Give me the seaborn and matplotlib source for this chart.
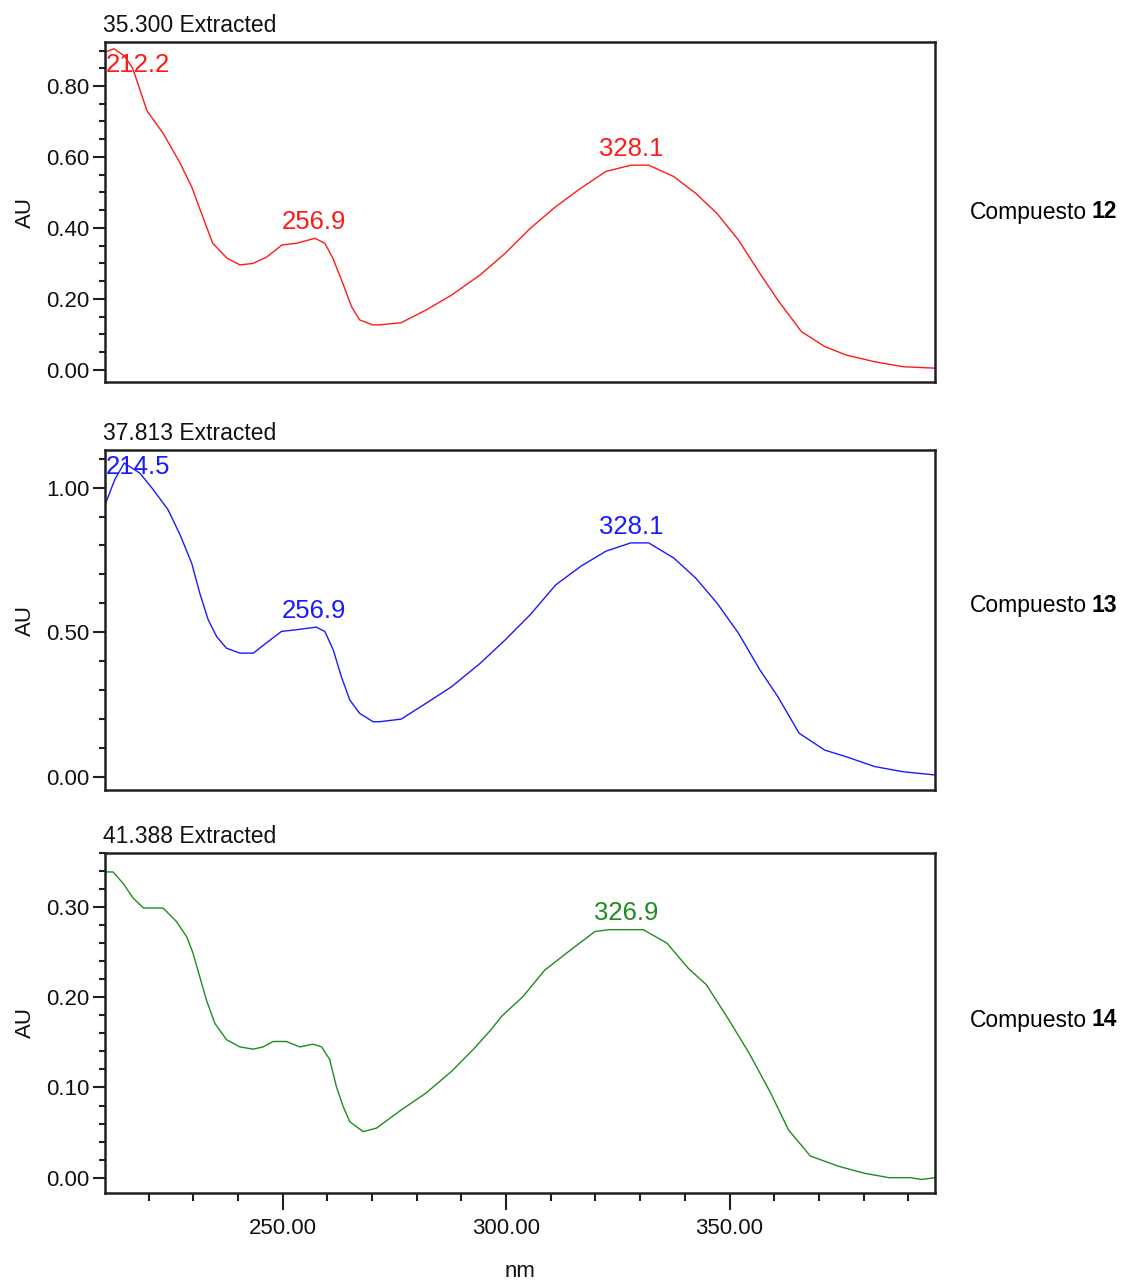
import numpy as np
import seaborn as sns
import matplotlib.pyplot as plt
from matplotlib.ticker import MultipleLocator, FormatStrFormatter

# ======================
# data
# ======================
nm_12 = [210.2, 212.2, 214.5, 216.4, 219.6, 223.2, 227.0, 229.6, 232.1, 234.3,
         237.5, 240.4, 243.3, 246.4, 249.8, 253.1, 257.2, 259.4, 261.2, 263.4,
         265.4, 267.2, 270.1, 271.7, 276.5, 282.1, 287.8, 294.2, 299.8, 305.4,
         311.1, 316.7, 322.3, 327.9, 331.9, 337.5, 342.4, 347.2, 352.0, 356.8,
         360.8, 366.1, 371.3, 376.1, 382.5, 388.9, 396.0]
au_12 = [0.895, 0.905, 0.885, 0.85, 0.73, 0.667, 0.583, 0.516, 0.431, 0.357,
         0.315, 0.296, 0.30, 0.318, 0.352, 0.357, 0.371, 0.357, 0.315, 0.245,
         0.178, 0.141, 0.127, 0.127, 0.133, 0.169, 0.211, 0.268, 0.329, 0.399,
         0.46, 0.512, 0.559, 0.577, 0.577, 0.545, 0.498, 0.441, 0.366, 0.272,
         0.197, 0.108, 0.066, 0.042, 0.023, 0.009, 0.005]

nm_13 = [210.2, 212.4, 214.5, 218.0, 221.0, 224.3, 227.0, 229.6, 231.4, 233.3,
         235.2, 237.4, 240.4, 243.4, 246.3, 249.7, 253.1, 257.5, 259.4, 261.3,
         263.1, 265.0, 267.2, 270.2, 271.7, 276.5, 282.1, 287.8, 294.2, 299.8,
         305.4, 311.1, 316.7, 322.3, 327.9, 331.9, 337.5, 342.4, 347.2, 352.0,
         356.8, 360.8, 365.6, 371.3, 376.1, 382.5, 388.9, 396.0]
au_13 = [0.94, 1.028, 1.085, 1.05, 0.993, 0.924, 0.837, 0.739, 0.636, 0.543,
         0.485, 0.445, 0.428, 0.428, 0.463, 0.503, 0.509, 0.518, 0.503, 0.439,
         0.347, 0.266, 0.22, 0.191, 0.191, 0.2, 0.255, 0.312, 0.393, 0.474,
         0.561, 0.664, 0.728, 0.78, 0.809, 0.809, 0.757, 0.688, 0.601, 0.497,
         0.37, 0.278, 0.151, 0.093, 0.07, 0.036, 0.018, 0.007]

nm_14 = [210.2, 212.0, 214.3, 216.5, 218.8, 223.2, 226.2, 228.5, 229.9, 231.4,
         232.9, 234.8, 237.4, 240.4, 243.4, 245.6, 247.8, 250.8, 253.8, 256.8,
         258.7, 260.5, 262.0, 263.5, 265.0, 268.0, 271.0, 274.0, 276.5, 282.1,
         287.8, 292.6, 296.6, 299.0, 303.8, 308.6, 314.3, 319.9, 323.1, 330.7,
         336.0, 340.8, 344.8, 349.6, 354.4, 359.2, 363.2, 368.1, 374.5, 380.1,
         385.7, 390.5, 393.0, 396.0]
au_14 = [0.339, 0.339, 0.326, 0.31, 0.299, 0.299, 0.284, 0.267, 0.249, 0.223,
         0.197, 0.171, 0.153, 0.145, 0.1425, 0.145, 0.151, 0.151, 0.145, 0.148,
         0.145, 0.131, 0.101, 0.079, 0.062, 0.051, 0.055, 0.066, 0.075, 0.094,
         0.118, 0.142, 0.164, 0.179, 0.201, 0.230, 0.252, 0.273, 0.275, 0.275,
         0.260, 0.232, 0.214, 0.177, 0.138, 0.094, 0.053, 0.024, 0.0125, 0.005,
         0.0, 0.0, -0.002, 0.0]

peaks_12 = [212.2, 256.9, 328.1]
peaks_13 = [214.5, 256.9, 328.1]
peaks_14 = [326.9]

titles = ["35.300 Extracted", "37.813 Extracted", "41.388 Extracted"]
compounds = ["12", "13", "14"]

# ======================
# style
# ======================
sns.set_style("ticks")
plt.rcParams["font.family"] = ["Liberation Sans", "DejaVu Sans"]
plt.rcParams["axes.linewidth"] = 1.8
plt.rcParams["axes.edgecolor"] = "#202020"
plt.rcParams["text.color"] = "#111111"
plt.rcParams["axes.labelcolor"] = "#111111"
plt.rcParams["xtick.labelcolor"] = "#111111"
plt.rcParams["ytick.labelcolor"] = "#111111"

panels = [
    dict(nm=nm_12, au=au_12, peaks=peaks_12, color="#ff1a1a",
         ylim=(-0.034, 0.924), major=0.2, minor=0.05, rect=[105, 42, 935, 382],
         name_y=212),
    dict(nm=nm_13, au=au_13, peaks=peaks_13, color="#1a1aff",
         ylim=(-0.045, 1.13), major=0.5, minor=0.1, rect=[105, 450, 935, 790],
         name_y=606),
    dict(nm=nm_14, au=au_14, peaks=peaks_14, color="#1f8c1f",
         ylim=(-0.017, 0.36), major=0.1, minor=0.02, rect=[105, 853, 935, 1193],
         name_y=1020),
]

W, H = 1122, 1283
fig = plt.figure(figsize=(W / 100, H / 100), dpi=100)

for i, p in enumerate(panels):
    x0, y0, x1, y1 = p["rect"]
    ax = fig.add_axes([x0 / W, 1 - y1 / H, (x1 - x0) / W, (y1 - y0) / H])
    sns.lineplot(x=p["nm"], y=p["au"], ax=ax, color=p["color"], linewidth=1.0)
    ax.set_xlim(210.2, 396.0)
    ax.set_ylim(*p["ylim"])

    ax.yaxis.set_major_locator(MultipleLocator(p["major"]))
    ax.yaxis.set_minor_locator(MultipleLocator(p["minor"]))
    ax.yaxis.set_major_formatter(FormatStrFormatter("%.2f"))
    ax.tick_params(axis="y", which="major", length=9, width=1.5, labelsize=16,
                   pad=2, color="#202020")
    ax.tick_params(axis="y", which="minor", length=4, width=1.5, color="#202020")

    if i == 2:
        ax.xaxis.set_major_locator(MultipleLocator(50))
        ax.xaxis.set_minor_locator(MultipleLocator(10))
        ax.xaxis.set_major_formatter(FormatStrFormatter("%.2f"))
        ax.tick_params(axis="x", which="major", length=12, width=1.5,
                       labelsize=16, pad=6, color="#202020")
        ax.tick_params(axis="x", which="minor", length=6, width=1.5,
                       color="#202020")
        ax.set_xlabel("nm", fontsize=16)
        ax.xaxis.set_label_coords(0.5, -0.2)
    else:
        ax.tick_params(axis="x", which="both", bottom=False, labelbottom=False)
        ax.set_xlabel("")

    ax.set_ylabel("AU", fontsize=16)
    ax.yaxis.set_label_coords(-0.083, 0.5)
    ax.set_title(titles[i], loc="left", fontsize=16.5, pad=7, x=-0.003)

    # peak labels
    for pk in p["peaks"]:
        yv = np.interp(pk, p["nm"], p["au"])
        if pk < 220:
            off = (-6, -12) if i == 0 else (-13, -3)
            ax.annotate(f"{pk:.1f}", xy=(pk, yv), xytext=off,
                        textcoords="offset points", ha="left", va="center",
                        color=p["color"], fontsize=18.5)
        else:
            ax.annotate(f"{pk:.1f}", xy=(pk, yv), xytext=(0, 3),
                        textcoords="offset points", ha="center", va="bottom",
                        color=p["color"], fontsize=18.5)

    # compound name on the right
    t = fig.text(970 / W, 1 - p["name_y"] / H, "Compuesto", fontsize=16.5,
                 va="center", ha="left", color="black")
    ax.annotate(compounds[i], xy=(1, 0.5), xycoords=t, xytext=(3, 0),
                textcoords="offset points", va="center", ha="left",
                fontsize=16.5, fontweight="bold", color="black")

fig.savefig("out.png", dpi=100)
